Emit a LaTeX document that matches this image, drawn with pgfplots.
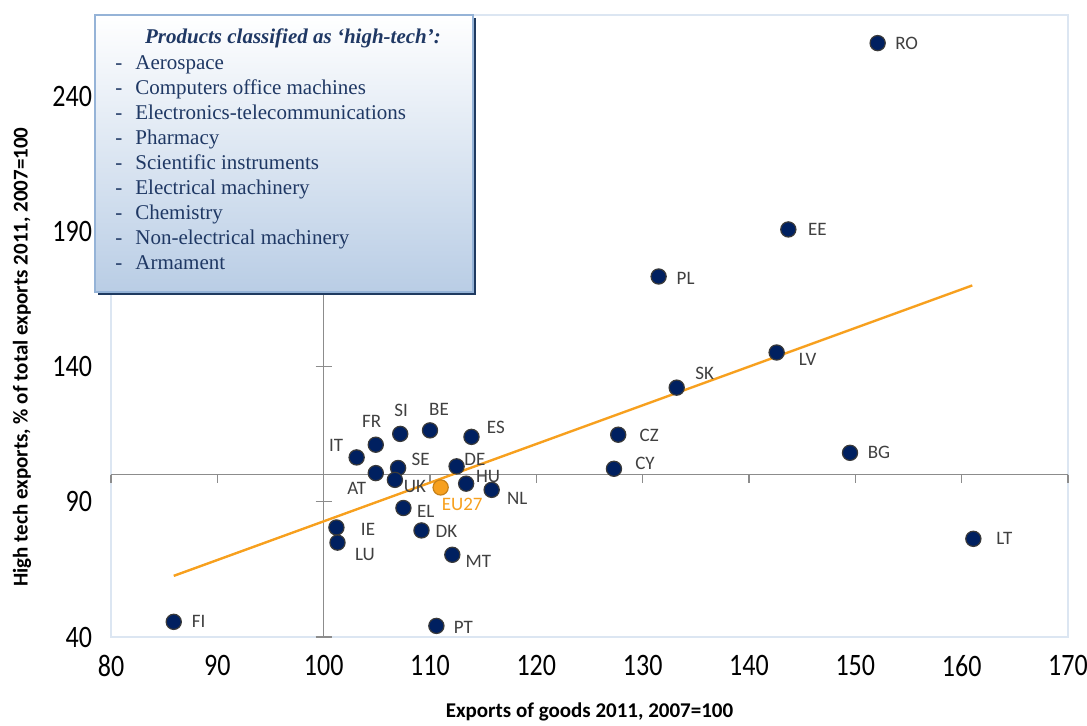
\documentclass[border=0pt]{standalone}
\usepackage{fontspec}
\setmainfont{Carlito}
\newfontfamily\serifbox{Liberation Serif}
\usepackage{pgfplots}
\pgfplotsset{compat=1.18}
\usepackage{pgfplotstable}

\definecolor{navy}{HTML}{002060}
\definecolor{markedge}{HTML}{3A3A3A}
\definecolor{trend}{HTML}{F7A01E}
\definecolor{labelgray}{HTML}{404040}
\definecolor{framec}{HTML}{DCE6F2}
\definecolor{crossc}{HTML}{8C8C8C}
\definecolor{boxbot}{HTML}{B9CDE5}
\definecolor{boxedge}{HTML}{95B3D7}
\definecolor{shadowc}{HTML}{1F3A60}
\definecolor{boxtext}{HTML}{1F3864}

% country  exports  hightech  label offsets (pt)
\pgfplotstableread{
label x     y     dx    dy
RO    152.1 259.6 14.5  0
EE    143.7 190.7 14.5  0
PL    131.5 173.3 13.5  -1
LV    142.6 145.2 15.5  -3.5
SK    133.2 132.2 14    7
CZ    127.7 114.8 15.5  -0.5
CY    127.3 102.2 15.5  2.5
BG    149.5 108.1 14.5  0
LT    161.1 76.3  15.5  0
FI    85.9  45.6  12.5  0
PT    110.6 44.1  13.5  -1
IT    103.1 106.4 -10.3 5.8
FR    104.9 111.1 -2    11.7
SI    107.2 115.1 0.5   11.8
BE    110.0 116.4 4.5   10.3
ES    113.9 114.0 12.2  4.8
SE    107.0 102.5 11.3  4.2
AT    104.9 100.6 -9.5  -7.5
UK    106.7 98.1  10    -3.3
DE    112.5 103.1 9.2   3.3
HU    113.4 96.7  11    3.7
NL    115.8 94.4  12.8  -4.5
EL    107.5 87.7  11.2  -1.7
IE    101.2 80.5  15.8  -0.8
LU    101.3 74.9  13.7  -5.8
DK    109.2 79.4  12.5  -0.5
MT    112.1 70.4  13    -3.3
}\countries

\pgfplotstableread{
label x     y     dx    dy
EU27  111.0 95.3  10.8  -8.3
}\eu

\begin{document}
\begin{tikzpicture}
\useasboundingbox (-55.5pt,-44.5pt) rectangle (488pt,318.5pt);
\begin{axis}[
  scale only axis,
  width=478.5pt, height=311pt,
  xmin=80, xmax=170, ymin=40, ymax=270,
  xtick={80,90,...,170}, ytick={40,90,...,240},
  major tick length=0pt,
  axis line style={draw=framec, line width=0.8pt},
  /pgf/number format/assume math mode=true,
  tick label style={font=\fontsize{13}{15}\selectfont, yscale=1.2, text=black},
  xticklabel style={yshift=-4pt},
  yticklabel style={xshift=-6pt},
  xlabel={Exports of goods 2011, 2007=100},
  ylabel={High tech exports, \% of total exports 2011, 2007=100},
  xlabel style={at={(axis description cs:0.5,-0.1206)}, anchor=center,
    font=\bfseries\fontsize{10.5}{12}\selectfont},
  ylabel style={at={(axis description cs:-0.093,0.45)}, anchor=center,
    font=\bfseries\fontsize{10.5}{12}\selectfont},
  clip=false,
]
% crossing reference axes at (100,100)
\draw[crossc, line width=0.7pt] (axis cs:100,40) -- (axis cs:100,270);
\draw[crossc, line width=0.7pt] (axis cs:80,100) -- (axis cs:170,100);
\pgfplotsinvokeforeach{80,90,110,120,130,140,150,160,170}{
  \draw[crossc, line width=0.7pt] (axis cs:#1,100) -- ++(0pt,-4pt);
}
\pgfplotsinvokeforeach{40,90,140,190,240}{
  \draw[crossc, line width=0.7pt] (axis cs:100,#1) ++(-4pt,0pt) -- ++(8pt,0pt);
}

\addplot[only marks, mark=*, mark size=3.8pt,
  mark options={fill=navy, draw=markedge, line width=0.6pt},
  visualization depends on={\thisrow{dx} \as \ldx},
  visualization depends on={\thisrow{dy} \as \ldy},
  nodes near coords, point meta=explicit symbolic,
  every node near coord/.append style={anchor=center, xshift={(\ldx)*1pt}, yshift={(\ldy)*1pt},
    font=\fontsize{9.5}{11}\selectfont, text=labelgray}]
  table[x=x, y=y, meta=label] {\countries};

\addplot[only marks, mark=*, mark size=3.8pt,
  mark options={fill=trend, draw=trend!80!black, line width=0.6pt},
  visualization depends on={\thisrow{dx} \as \ldx},
  visualization depends on={\thisrow{dy} \as \ldy},
  nodes near coords, point meta=explicit symbolic,
  every node near coord/.append style={anchor=center, xshift={(\ldx)*1pt}, yshift={(\ldy)*1pt},
    font=\fontsize{9.5}{11}\selectfont, text=trend}]
  table[x=x, y=y, meta=label] {\eu};

% linear trend
\addplot[trend, line width=1.2pt, no marks] coordinates {(85.9,62.6) (161.0,170.0)};
\end{axis}

% list of product groups
\fill[shadowc] (-6.5pt,171pt) rectangle (182.5pt,309.5pt);
\shade[top color=white, bottom color=boxbot, draw=boxedge, line width=1pt]
  (-8pt,172.5pt) rectangle (181pt,311pt);
\node[font=\serifbox\bfseries\itshape\fontsize{10.5}{12}\selectfont, text=boxtext]
  at (91pt,299.5pt) {Products classified as ‘high-tech’:};
\foreach \t [count=\i from 0] in {Aerospace, Computers office machines,
  Electronics-telecommunications, Pharmacy, Scientific instruments,
  Electrical machinery, Chemistry, Non-electrical machinery, Armament} {
  \node[font=\serifbox\fontsize{10.5}{12}\selectfont, text=boxtext, inner sep=0pt,
    anchor=base west] at (2pt,283.5pt-12.5pt*\i) {-};
  \node[font=\serifbox\fontsize{10.5}{12}\selectfont, text=boxtext, inner sep=0pt,
    anchor=base west] at (12pt,283.5pt-12.5pt*\i) {\t};
}
\end{tikzpicture}
\end{document}
